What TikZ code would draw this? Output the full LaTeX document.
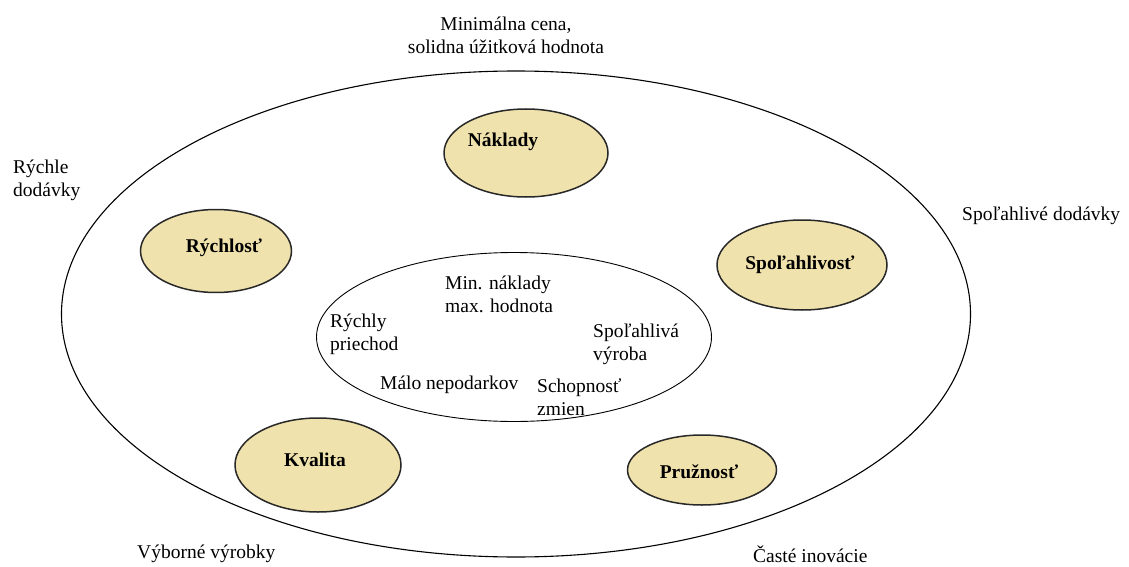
\documentclass[tikz,border=0pt]{standalone}
\usepackage{fontspec}
\setmainfont{Liberation Serif}
\usetikzlibrary{positioning, shapes.geometric}
\definecolor{factorfill}{RGB}{240,226,172}
\definecolor{factorline}{RGB}{40,40,40}

\begin{document}
\begin{tikzpicture}[
    x=1pt, y=-1pt,
    every node/.style={font=\fontsize{19.5}{23}\selectfont},
    ring/.style={ellipse, draw=black, line width=1.1pt, inner sep=0pt},
    factor/.style={ellipse, draw=factorline, fill=factorfill, line width=1.5pt, inner sep=0pt},
    factortext/.style={font=\fontsize{19.5}{23}\selectfont\bfseries, inner sep=0pt},
    note/.style={align=left, anchor=west, inner sep=0pt}
]
\useasboundingbox (0,0) rectangle (1129,567);

% Outer and inner ellipses
\node[ring, minimum width=909pt, minimum height=486pt] (outer) at (516,314) {};
\node[ring, line width=0.9pt, minimum width=395pt, minimum height=169pt] (inner) at (514,337) {};

% Factor ellipses
\node[factor, minimum width=164pt, minimum height=88pt] (naklady) at (526,153) {};
\node[factor, minimum width=151pt, minimum height=83pt] (rychlost) at (216,251) {};
\node[factor, minimum width=170pt, minimum height=90pt] (spolahlivost) at (802,265) {};
\node[factor, minimum width=166pt, minimum height=94pt] (kvalita) at (318,465) {};
\node[factor, minimum width=149pt, minimum height=70pt] (pruznost) at (702,470) {};

% Factor labels
\node[factortext] (nakladyT) at (503,142) {Náklady};
\node[factortext] (rychlostT) at (224,248) {Rýchlosť};
\node[factortext] (spolahlivostT) at (800,265) {Spoľahlivosť};
\node[factortext] (kvalitaT) at (315,460) {Kvalita};
\node[factortext] (pruznostT) at (699,472) {Pružnosť};

% Inner notes
\node[note] (minnaklady) at (445,294) {Min. náklady\\max. hodnota};
\node[note] (rychlypriechod) at (330,334) {Rýchly\\priechod};
\node[note] (spolvyroba) at (593,344) {Spoľahlivá\\výroba};
\node[note] (malonepodarkov) at (380,385) {Málo nepodarkov};
\node[note] (schopnost) at (537,397) {Schopnosť\\zmien};

% Outer notes
\node[align=center, inner sep=0pt] (mincena) at (506,35) {Minimálna cena,\\solidna úžitková hodnota};
\node[note] (rychledodavky) at (13,180) {Rýchle\\dodávky};
\node[note] (spoldodavky) at (962,216) {Spoľahlivé dodávky};
\node[note] (vyborne) at (137,554) {Výborné výrobky};
\node[note] (caste) at (753,554) {Časté inovácie};

\end{tikzpicture}
\end{document}
